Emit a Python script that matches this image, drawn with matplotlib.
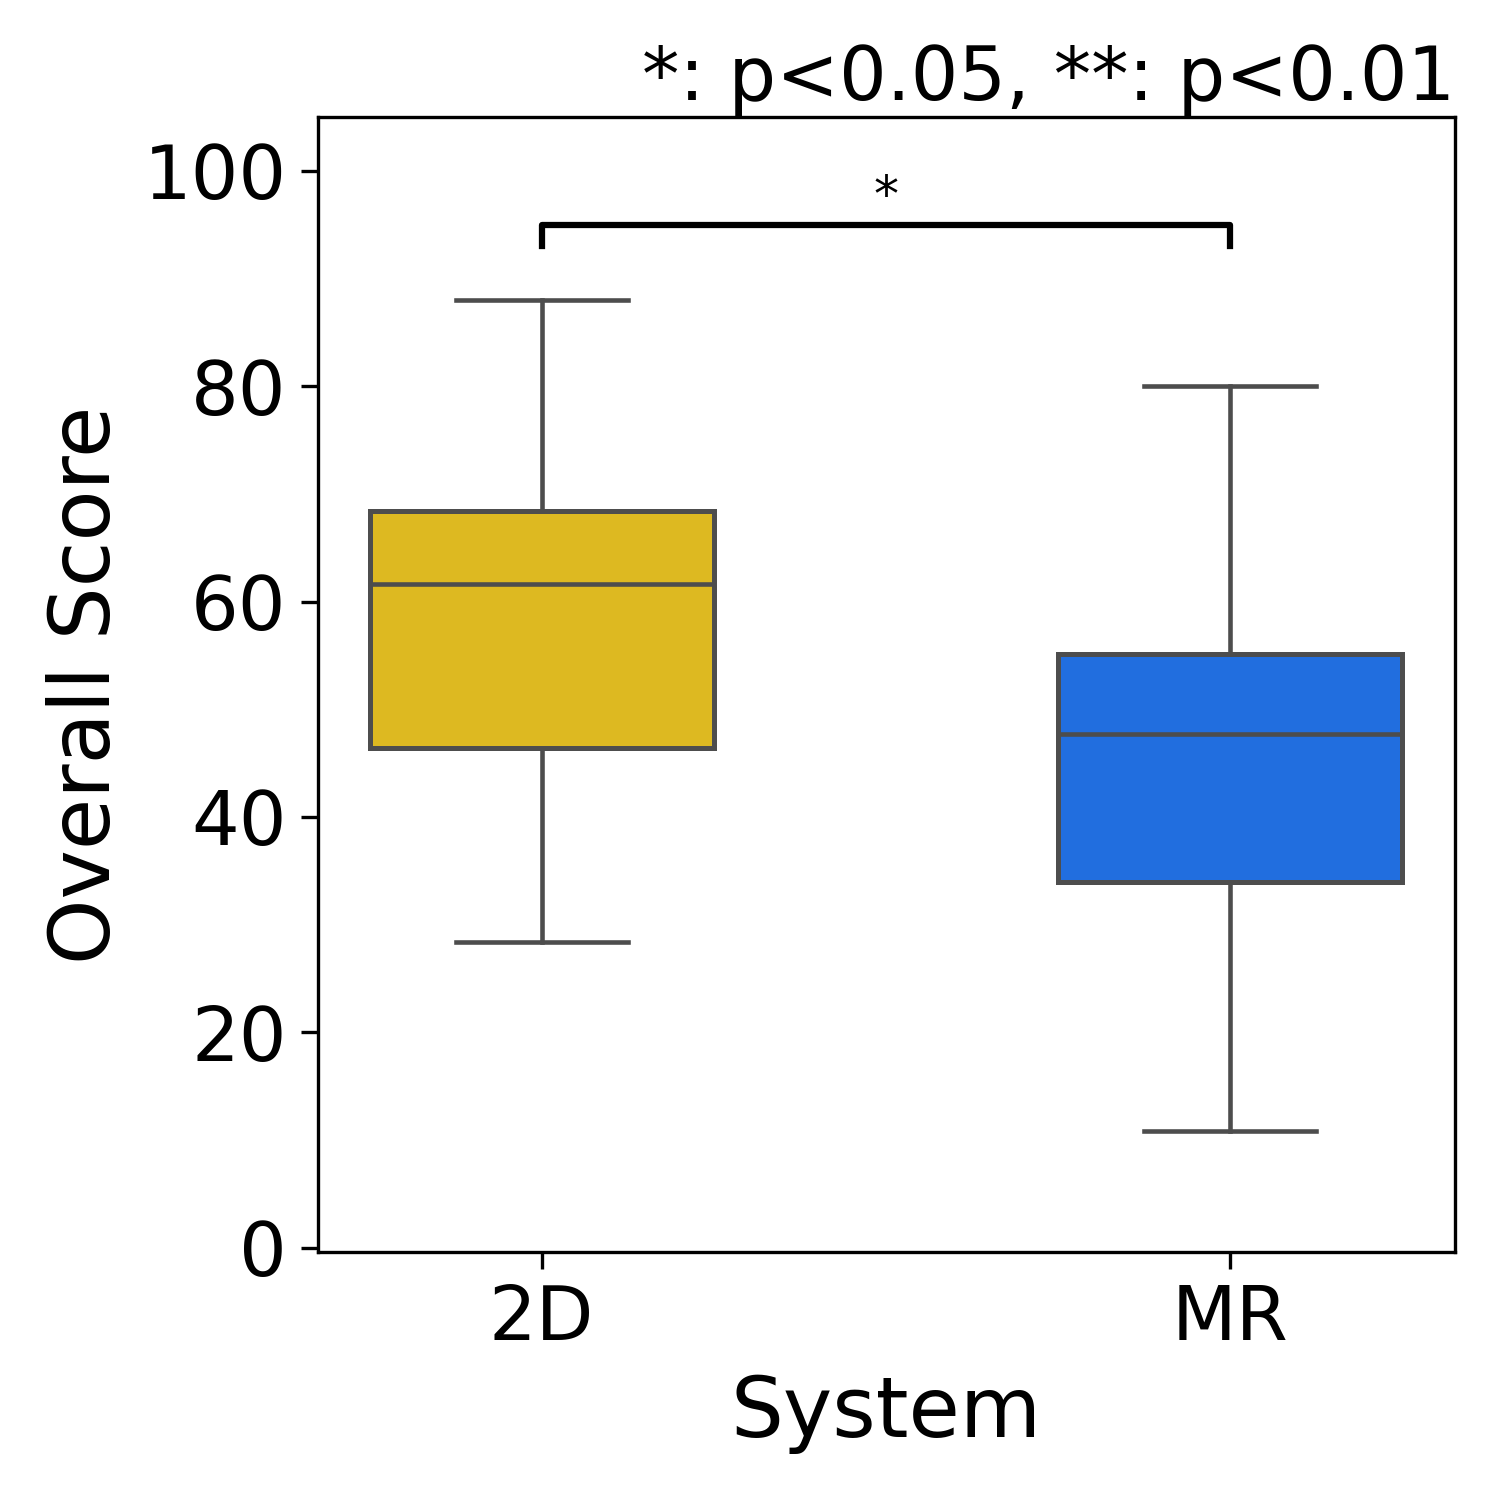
import matplotlib
matplotlib.use("Agg")
import matplotlib.pyplot as plt

# box statistics
systems = ["2D", "MR"]
whisker_low = [28.4, 10.8]
q1 = [46.4, 34.0]
median = [61.6, 47.7]
q3 = [68.4, 55.1]
whisker_high = [88.0, 80.0]
box_colors = ["#DDB921", "#216EDF"]

plt.rcParams["font.family"] = "DejaVu Sans"
fig = plt.figure(figsize=(5, 5), dpi=300)
ax = fig.add_axes([0.212, 0.1653, 0.758, 0.7567])

stats = []
for i, name in enumerate(systems):
    stats.append({
        "label": name, "whislo": whisker_low[i], "q1": q1[i], "med": median[i],
        "q3": q3[i], "whishi": whisker_high[i], "fliers": [],
    })

edge = "#4d4d4d"
bp = ax.bxp(
    stats, positions=range(len(systems)), widths=0.5, patch_artist=True,
    showfliers=False,
    boxprops=dict(edgecolor=edge, linewidth=1.2),
    medianprops=dict(color=edge, linewidth=1.1),
    whiskerprops=dict(color=edge, linewidth=1.1),
    capprops=dict(color=edge, linewidth=1.1),
    capwidths=0.25,
)
for patch, c in zip(bp["boxes"], box_colors):
    patch.set_facecolor(c)

# significance bracket
ax.plot([0, 0, 1, 1], [93, 95, 95, 93], color="black", linewidth=1.5)
ax.text(0.5, 95.3, "*", ha="center", va="bottom", fontsize=12)

ax.set_xlim(-0.325, 1.327)
ax.set_ylim(-0.4, 105)
ax.set_yticks([0, 20, 40, 60, 80, 100])
ax.set_xticks(range(len(systems)))
ax.set_xticklabels(systems)
ax.tick_params(axis="both", labelsize=18, length=4, width=0.8)
ax.set_xlabel("System", fontsize=20)
ax.set_ylabel("Overall Score", fontsize=20)
ax.set_title("*: p<0.05, **: p<0.01", loc="right", fontsize=18, pad=4)

for spine in ax.spines.values():
    spine.set_linewidth(0.8)
    spine.set_color("black")

fig.savefig("out.png", dpi=300)
plt.close(fig)
